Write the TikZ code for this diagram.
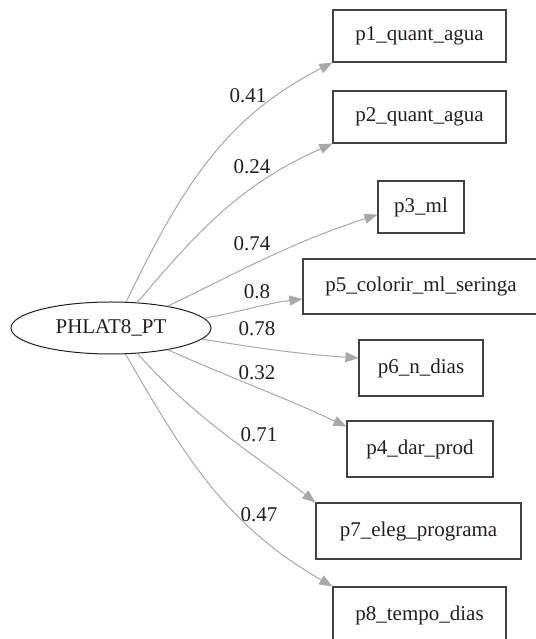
\documentclass[tikz,border=0pt]{standalone}
\usepackage{fontspec}
\setmainfont{Liberation Serif}
\usepackage{xcolor}
\usepackage{tikz}
\usetikzlibrary{shapes,arrows.meta}
\definecolor{edgegray}{HTML}{A8A8A8}
\definecolor{inkdark}{HTML}{231F20}
\tikzstyle{latent} = [ellipse, draw=inkdark, line width=1pt, inner sep=0pt, minimum width=200pt, minimum height=52pt, text=inkdark]
\tikzstyle{itembox} = [rectangle, draw=inkdark!85, line width=1.2pt, inner sep=0pt, minimum height=54pt, text=inkdark]
\tikzstyle{loading} = [draw=edgegray, line width=1pt, -{Triangle[length=13pt,width=10pt,fill=edgegray]}]
\tikzstyle{weight} = [text=inkdark, inner sep=0pt]

\begin{document}
\begin{tikzpicture}[x=1pt, y=1pt, font=\fontsize{21}{24}\selectfont]
\useasboundingbox (0,0) rectangle (535,639);
% latent variable
\node [latent] at (111,311) (lat) {PHLAT8\_PT};

% items
\node [itembox, minimum width=173pt, minimum height=52pt] at (419.5,603) (p1) {p1\_quant\_agua};
\node [itembox, minimum width=173pt, minimum height=52pt] at (419.5,522) (p2) {p2\_quant\_agua};
\node [itembox, minimum width=86pt, minimum height=52pt] at (421,432) (p3) {p3\_ml};
\node [itembox, minimum width=236pt, minimum height=55pt] at (421,352.5) (p5) {p5\_colorir\_ml\_seringa};
\node [itembox, minimum width=124pt, minimum height=56pt] at (421,271) (p6) {p6\_n\_dias};
\node [itembox, minimum width=146pt, minimum height=56pt] at (420,190) (p4) {p4\_dar\_prod};
\node [itembox, minimum width=205pt, minimum height=56pt] at (418.5,108) (p7) {p7\_eleg\_programa};
\node [itembox, minimum width=173pt, minimum height=56pt] at (419.5,24) (p8) {p8\_tempo\_dias};

% loadings
\path [loading] (lat.60) to[out=64, in=207] (p1.south west);
\path [loading] (lat.44) to[out=50, in=204] (p2.south west);
\path [loading] (lat.21) to[out=26, in=198] (p3.190);
\path [loading] (lat.6) to[out=10, in=187] (p5.186);
\path [loading] (lat.-7) to[out=-9, in=176] (p6.171);
\path [loading] (lat.-21) to[out=-24, in=155] (p4.163);
\path [loading] (lat.-44) to[out=-48, in=142] (p7.north west);
\path [loading] (lat.-61) to[out=-60, in=150] (p8.north west);

% weights
\node [weight] at (248,543) (w1) {0.41};
\node [weight] at (252,472) (w2) {0.24};
\node [weight] at (252,395) (w3) {0.74};
\node [weight] at (257,347) (w5) {0.8};
\node [weight] at (257,310) (w6) {0.78};
\node [weight] at (257,266) (w4) {0.32};
\node [weight] at (259,204) (w7) {0.71};
\node [weight] at (259,124) (w8) {0.47};
\end{tikzpicture}
\end{document}
